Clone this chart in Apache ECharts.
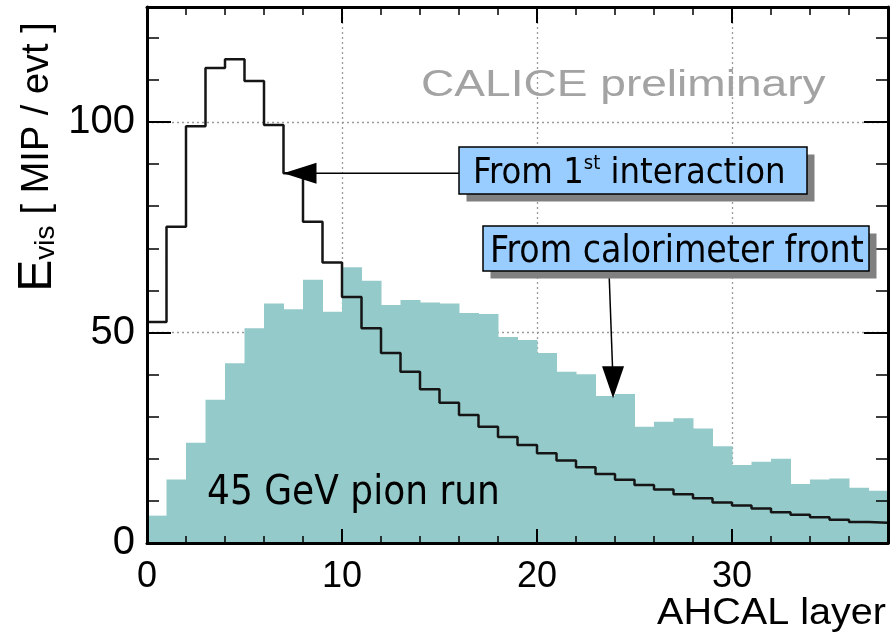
<!DOCTYPE html>
<html>
<head>
<meta charset="utf-8">
<script src="https://cdn.jsdelivr.net/npm/echarts@6/dist/echarts.min.js"></script>
<style>
  html, body { margin: 0; padding: 0; background: #ffffff; }
  #chart { width: 896px; height: 634px; }
</style>
</head>
<body>
<div id="chart"></div>
<script>
// AHCAL longitudinal shower profile, 45 GeV pions (bin = one layer)
const layers = [0, 1, 2, 3, 4, 5, 6, 7, 8, 9, 10, 11, 12, 13, 14, 15, 16, 17, 18,
  19, 20, 21, 22, 23, 24, 25, 26, 27, 28, 29, 30, 31, 32, 33, 34, 35, 36, 37];

// Visible energy per layer, counted from the calorimeter front [MIP / evt]
const fromFront = [6.5, 15.1, 23.8, 34.0, 42.7, 51.0, 56.9, 55.5, 62.5, 54.9,
  65.5, 62.3, 56.5, 57.7, 57.1, 56.9, 54.6, 54.4, 48.9, 48.2,
  45.1, 40.7, 40.1, 34.9, 35.4, 27.6, 28.8, 29.6, 27.2, 23.0,
  18.5, 19.3, 20.0, 14.0, 15.1, 15.3, 13.1, 12.4];

// Visible energy per layer, counted from the first hadronic interaction [MIP / evt]
const fromFirstInteraction = [52.5, 75.1, 99.0, 112.8, 114.9, 109.7, 99.3, 87.8, 76.3, 66.6,
  58.4, 51.0, 45.1, 40.7, 36.5, 33.3, 30.4, 27.6, 25.2, 23.3,
  21.3, 19.6, 18.0, 16.4, 15.0, 13.8, 12.7, 11.6, 10.6, 9.6,
  8.9, 8.2, 7.3, 6.7, 6.1, 5.5, 5.0, 4.8];

const xTickLabels = ['0', '10', '20', '30'];
const yTickLabels = ['0', '50', '100'];

// Where the two annotation arrows point (layer, MIP / evt)
const arrowFirstTarget = [7, 87.8];
const arrowFrontTarget = [23.9, 34.4];

const X_MAX = 38;
const Y_MAX = 127.3;
const BIN_WIDTH = 1;

const AXIS_FONT = '"Liberation Sans", Arial, Helvetica, sans-serif';
const NOTE_FONT = '"DejaVu Sans Condensed", "DejaVu Sans", sans-serif';
const TEAL = '#95caca';

const chart = echarts.init(document.getElementById('chart'), null, { renderer: 'canvas' });

function xAxisDef(pos, interval, opts) {
  return Object.assign({
    type: 'value', gridIndex: 0, position: pos, min: 0, max: X_MAX, interval: interval,
    z: 10,
    axisLine: { show: false, onZero: false },
    axisTick: { show: false },
    axisLabel: { show: false },
    splitLine: { show: false },
    minorTick: { show: false },
    minorSplitLine: { show: false }
  }, opts);
}
function yAxisDef(pos, interval, opts) {
  return Object.assign({
    type: 'value', gridIndex: 0, position: pos, min: 0, max: Y_MAX, interval: interval,
    z: 10,
    axisLine: { show: false, onZero: false },
    axisTick: { show: false },
    axisLabel: { show: false },
    splitLine: { show: false },
    minorTick: { show: false },
    minorSplitLine: { show: false }
  }, opts);
}

const frameLine = { show: true, onZero: false, lineStyle: { color: '#000', width: 3 } };
const dotted = { show: true, lineStyle: { color: '#9a9a9a', width: 1.3, type: [2, 3] } };

const option = {
  animation: false,
  backgroundColor: '#ffffff',
  grid: { left: 147, top: 7, width: 741, height: 536, containLabel: false, outerBoundsMode: 'none' },
  xAxis: [
    xAxisDef('bottom', 10, {
      axisLine: frameLine,
      axisTick: { show: true, inside: true, length: 14, lineStyle: { color: '#000', width: 2 } },
      axisLabel: {
        show: true, fontSize: 36, fontFamily: AXIS_FONT, color: '#000', margin: 16,
        showMaxLabel: false, hideOverlap: false,
        formatter: v => (xTickLabels.indexOf(String(v)) >= 0 ? String(v) : '')
      }
    }),
    xAxisDef('bottom', 2, {
      axisTick: { show: true, inside: true, length: 7, lineStyle: { color: '#000', width: 1.5 } }
    }),
    xAxisDef('top', 10, {
      axisLine: frameLine,
      axisTick: { show: true, inside: true, length: 16, lineStyle: { color: '#000', width: 2 } }
    }),
    xAxisDef('top', 2, {
      axisTick: { show: true, inside: true, length: 8, lineStyle: { color: '#000', width: 1.5 } }
    }),
    xAxisDef('bottom', 10, { z: 0, splitLine: dotted })
  ],
  yAxis: [
    yAxisDef('left', 50, {
      axisLine: frameLine,
      axisTick: { show: true, inside: true, length: 24, lineStyle: { color: '#000', width: 2 } },
      axisLabel: {
        show: true, fontSize: 40, fontFamily: AXIS_FONT, color: '#000', margin: 12,
        showMaxLabel: false, hideOverlap: false,
        formatter: v => (yTickLabels.indexOf(String(v)) >= 0 ? String(v) : '')
      }
    }),
    yAxisDef('left', 10, {
      axisTick: { show: true, inside: true, length: 12, lineStyle: { color: '#000', width: 1.5 } }
    }),
    yAxisDef('right', 50, {
      axisLine: frameLine,
      axisTick: { show: true, inside: true, length: 24, lineStyle: { color: '#000', width: 2 } }
    }),
    yAxisDef('right', 10, {
      axisTick: { show: true, inside: true, length: 12, lineStyle: { color: '#000', width: 1.5 } }
    }),
    yAxisDef('left', 50, { z: 0, splitLine: dotted })
  ],
  series: [
    {
      name: 'From calorimeter front',
      type: 'custom',
      xAxisIndex: 0, yAxisIndex: 0,
      z: 2,
      data: layers.map((l, i) => [l, fromFront[i]]),
      renderItem: function (params, api) {
        const x0 = api.value(0);
        const v = api.value(1);
        const topLeft = api.coord([x0, v]);
        const bottomRight = api.coord([x0 + BIN_WIDTH, 0]);
        return {
          type: 'rect',
          shape: {
            x: topLeft[0], y: topLeft[1],
            width: bottomRight[0] - topLeft[0] + 0.5,
            height: bottomRight[1] - topLeft[1]
          },
          style: { fill: TEAL }
        };
      }
    },
    {
      name: 'From 1st interaction',
      type: 'line',
      xAxisIndex: 0, yAxisIndex: 0,
      z: 3,
      step: 'end',
      symbol: 'none',
      lineStyle: { color: '#151515', width: 2.5 },
      data: layers.map((l, i) => [l, fromFirstInteraction[i]])
        .concat([[layers[layers.length - 1] + BIN_WIDTH, fromFirstInteraction[fromFirstInteraction.length - 1]]])
    }
  ]
};

chart.setOption(option);

// Annotations: labelled boxes with arrows, run label, watermark and axis titles
const toPx = p => chart.convertToPixel({ xAxisIndex: 0, yAxisIndex: 0 }, p);
const tip1 = toPx(arrowFirstTarget);
const tip2 = toPx(arrowFrontTarget);

const box1 = { x: 459, y: 147, w: 348, h: 47 };
const box2 = { x: 483, y: 226, w: 386, h: 45 };
const SHADOW = 7.5;

function boxGroup(b) {
  return [
    { type: 'rect', z: 50, shape: { x: b.x + SHADOW, y: b.y + SHADOW, width: b.w, height: b.h },
      style: { fill: '#808080' } },
    { type: 'rect', z: 51, shape: { x: b.x, y: b.y, width: b.w, height: b.h },
      style: { fill: '#99ccff', stroke: '#000', lineWidth: 1.5 } }
  ];
}

const graphics = [
  // arrow towards the 1st-interaction profile
  { type: 'line', z: 40, shape: { x1: tip1[0] + 30, y1: tip1[1], x2: box1.x, y2: tip1[1] },
    style: { stroke: '#000', lineWidth: 1.5 } },
  { type: 'polygon', z: 41,
    shape: { points: [[tip1[0], tip1[1]], [tip1[0] + 33, tip1[1] - 10.5], [tip1[0] + 33, tip1[1] + 10.5]] },
    style: { fill: '#000' } },
  // arrow towards the calorimeter-front profile
  { type: 'line', z: 40, shape: { x1: 609, y1: box2.y + box2.h, x2: tip2[0] - 0.5, y2: tip2[1] - 30 },
    style: { stroke: '#000', lineWidth: 1.5 } },
  { type: 'polygon', z: 41,
    shape: { points: [[tip2[0], tip2[1]], [tip2[0] - 11, tip2[1] - 32], [tip2[0] + 11, tip2[1] - 32]] },
    style: { fill: '#000' } }
].concat(boxGroup(box1), boxGroup(box2), [
  { type: 'text', z: 52, x: 473, y: 174,
    style: {
      text: '{a|From 1}{s|st}{a| interaction}',
      verticalAlign: 'middle', align: 'left',
      rich: {
        a: { fontSize: 36, fontFamily: NOTE_FONT, fill: '#000', lineHeight: 40 },
        s: { fontSize: 20, fontFamily: NOTE_FONT, fill: '#000', lineHeight: 20, verticalAlign: 'top' }
      }
    } },
  { type: 'text', z: 52, x: 490, y: 252,
    style: { text: 'From calorimeter front', fontSize: 37, fontFamily: NOTE_FONT, fill: '#000',
      verticalAlign: 'middle', align: 'left' } },
  { type: 'text', z: 52, x: 207, y: 494,
    style: { text: '45 GeV pion run', fontSize: 40, fontFamily: NOTE_FONT, fill: '#000',
      verticalAlign: 'middle', align: 'left' } },
  { type: 'text', z: 52, x: 421, y: 86, scaleX: 1.28,
    style: { text: 'CALICE preliminary', fontSize: 36, fontFamily: AXIS_FONT, fill: '#a3a3a3',
      verticalAlign: 'middle', align: 'left' } },
  { type: 'text', z: 52, x: 886, y: 614, scaleX: 1.1,
    style: { text: 'AHCAL layer', fontSize: 36, fontFamily: AXIS_FONT, fill: '#000',
      verticalAlign: 'middle', align: 'right' } },
  { type: 'text', z: 52, x: 38, y: 157, rotation: Math.PI / 2,
    style: {
      text: '{e|E}{v|vis}{g|  }{b|[ MIP / evt ]}',
      align: 'center', verticalAlign: 'middle',
      rich: {
        e: { fontSize: 48, fontFamily: AXIS_FONT, fill: '#000', lineHeight: 44 },
        v: { fontSize: 28, fontFamily: AXIS_FONT, fill: '#000', lineHeight: 24, verticalAlign: 'bottom' },
        g: { fontSize: 20, fontFamily: AXIS_FONT, lineHeight: 20 },
        b: { fontSize: 38, fontFamily: AXIS_FONT, fill: '#000', lineHeight: 40 }
      }
    } }
]);

chart.setOption({ graphic: graphics });
</script>
</body>
</html>
